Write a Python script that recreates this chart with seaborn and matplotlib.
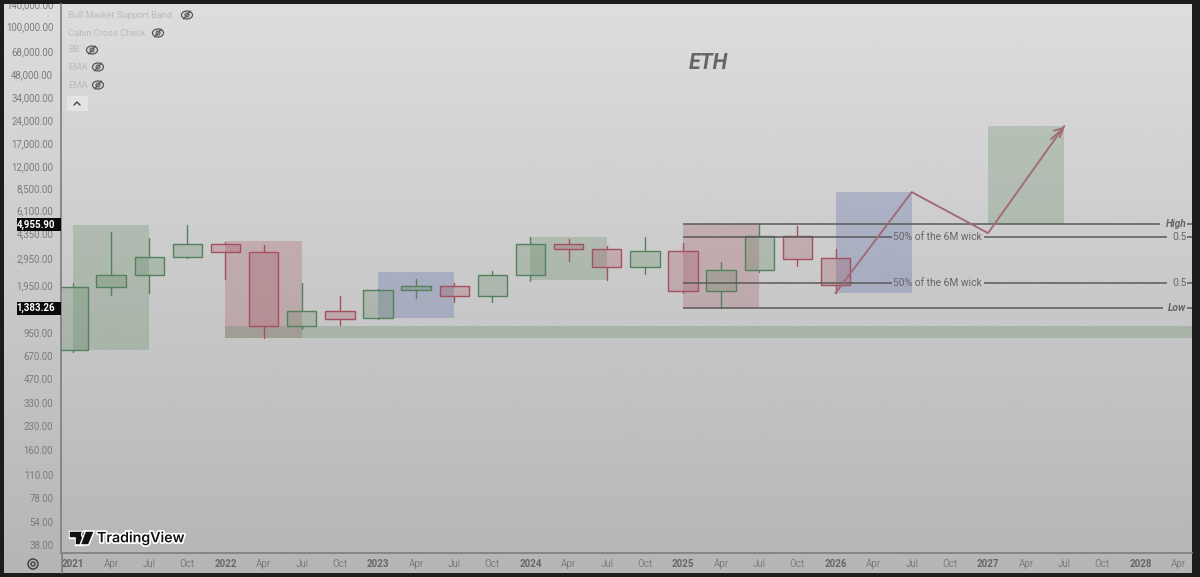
import numpy as np
import pandas as pd
import matplotlib.pyplot as plt
import matplotlib.patheffects as pe
from matplotlib.patches import Rectangle, Polygon, Circle, Ellipse
from matplotlib.ticker import NullLocator
import seaborn as sns

# quarterly ETH candles
opens = [737, 1908, 2290, 3008, 3664, 3250, 1056, 1326, 1190, 1824, 1938, 1665,
         2280, 3640, 3396, 2583, 3296, 1805, 2470, 4120, 2963]
highs = [2040, 4395, 4013, 4868, 3800, 3606, 2028, 1665, 1857, 2155, 2028, 2430,
         4074, 3950, 3540, 4074, 3717, 2800, 4955.9, 4800, 3396]
lows = [715, 1690, 1742, 2950, 2155, 881, 1009, 1072, 1180, 1615, 1520, 1520,
        2090, 2830, 2122, 2323, 1750, 1383.26, 2396, 2636, 1742]
closes = [1908, 2290, 3008, 3664, 3243, 1056, 1326, 1180, 1824, 1938, 1665, 2290,
          3640, 3396, 2583, 3296, 1805, 2470, 4120, 2931, 1967]

# shaded zones: start quarter, end quarter, low, high, colour
zone_starts = [0, 4, 8, 12, 16, 20, 24]
zone_ends = [2, 6, 10, 14, 18, 22, 26]
zone_lows = [734, 881, 1192, 2122, 1387, 1742, 4955.9]
zone_highs = [4880, 3835, 2396, 4074, 4955.9, 8060, 21950]
zone_colors = ['green', 'red', 'blue', 'green', 'red', 'blue', 'green']

band_low, band_high = 881, 1056

path_x = [20, 22, 24, 26]
path_y = [1742, 8060, 4327, 21950]

fib_prices = [4955.9, 4074, 2028, 1383.26]
fib_names = ['High', '0.5', '0.5', 'Low']
fib_ends = [28.5, 28.7, 28.7, 28.6]

y_ticks = [140000, 100000, 68000, 48000, 34000, 24000, 17000, 12000, 8500, 6100, 4350,
           2950, 1950, 950, 670, 470, 330, 230, 160, 110, 78, 54, 38]
x_labels = ['2021', 'Apr', 'Jul', 'Oct', '2022', 'Apr', 'Jul', 'Oct', '2023', 'Apr', 'Jul', 'Oct',
            '2024', 'Apr', 'Jul', 'Oct', '2025', 'Apr', 'Jul', 'Oct', '2026', 'Apr', 'Jul', 'Oct',
            '2027', 'Apr', 'Jul', 'Oct', '2028', 'Apr']
legend_names = ['Bull Market Support Band', 'Cabin Cross Check', 'BB', 'EMA', 'EMA']

GREEN = '#55805e'
RED = '#a5505f'
FILLS = {'green': (0.33, 0.50, 0.33, 0.24), 'red': (0.62, 0.27, 0.32, 0.24), 'blue': (0.27, 0.35, 0.66, 0.25)}

sns.set_theme(style='white')
plt.rcParams['font.family'] = ['Roboto', 'DejaVu Sans']

W, H = 1200, 577
fig = plt.figure(figsize=(12, 5.77), dpi=100, facecolor='#1c1c1c')


def px_axes(x0, y0, x1, y1, **kw):
    return fig.add_axes([x0 / W, 1 - y1 / H, (x1 - x0) / W, (y1 - y0) / H], **kw)


# grey gradient behind everything
bg = px_axes(4, 4, 1192, 573, zorder=0)
grad = np.linspace(221, 181, 256).reshape(-1, 1)
bg.imshow(grad, cmap='gray', vmin=0, vmax=255, aspect='auto')
bg.axis('off')

ax = px_axes(61.5, 4, 1192, 553, zorder=1)
ax.patch.set_alpha(0)
ax.set_yscale('log')
ax.set_ylim(33.7, 139700)
ax.set_xlim(-0.30, 29.35)

# zones
for s, e, lo, hi, c in zip(zone_starts, zone_ends, zone_lows, zone_highs, zone_colors):
    ax.bar(s, hi - lo, bottom=lo, width=e - s, align='edge', color=FILLS[c], linewidth=0, zorder=1)
ax.bar(4, band_high - band_low, bottom=band_low, width=26, align='edge',
       color=(0.33, 0.50, 0.33, 0.25), linewidth=0, zorder=1)

# candles
candles = pd.DataFrame({'open': opens, 'high': highs, 'low': lows, 'close': closes})
candles['q'] = candles.index
candles['top'] = candles[['open', 'close']].max(axis=1)
candles['bottom'] = candles[['open', 'close']].min(axis=1)
candles['dir'] = np.where(candles['close'] >= candles['open'], 'up', 'down')

upper = candles.melt(id_vars=['q', 'dir'], value_vars=['high', 'top'], value_name='price').assign(part='u')
lower = candles.melt(id_vars=['q', 'dir'], value_vars=['bottom', 'low'], value_name='price').assign(part='l')
wicks = pd.concat([upper, lower], ignore_index=True)
wicks['seg'] = wicks['part'] + wicks['q'].astype(str)
sns.lineplot(data=wicks, x='q', y='price', hue='dir', units='seg', estimator=None, sort=False,
             palette={'up': GREEN, 'down': RED}, linewidth=1.0, legend=False, ax=ax, zorder=3)

for _, c in candles.iterrows():
    up = c['dir'] == 'up'
    ax.bar(c['q'], c['top'] - c['bottom'], bottom=c['bottom'], width=0.77,
           color=FILLS['green'] if up else FILLS['red'],
           edgecolor=GREEN if up else RED, linewidth=1.0, zorder=3)

# fib lines, with gaps left for the labels
for price, end, name in zip(fib_prices, fib_ends, fib_names):
    if name == '0.5':
        ax.hlines(price, 16, 21.47, color='#5a5a5a', lw=1.1, zorder=4)
        ax.hlines(price, 23.9, end, color='#5a5a5a', lw=1.1, zorder=4)
        ax.text(22.68, price, '50% of the 6M wick', ha='center', va='center', fontsize=7.4,
                color='#666666', zorder=5)
    else:
        ax.hlines(price, 16, end, color='#5a5a5a', lw=1.1, zorder=4)
    ax.hlines(price, 29.22, 29.35, color='#5a5a5a', lw=1.1, zorder=4)
    ax.text(29.2, price, name, ha='right', va='center', fontsize=7.4, color='#666666',
            fontweight='bold' if name != '0.5' else 'normal',
            style='italic' if name != '0.5' else 'normal', zorder=5)

# projected path
sns.lineplot(x=path_x, y=path_y, sort=False, estimator=None, color='#a06c75', linewidth=1.4, ax=ax, zorder=6)
ax.annotate('', xy=(26.07, 22400), xytext=(25.6, 17500),
            arrowprops=dict(arrowstyle='->', color='#a06c75', lw=1.3, mutation_scale=16), zorder=6)

ax.text(16.66, 57500, 'ETH', ha='center', va='center', fontsize=15.5, fontweight='bold', style='italic',
        color='#666666', zorder=5)

# axes furniture
ax.set_xlabel('')
ax.set_ylabel('')
ax.grid(False)
for name, sp in ax.spines.items():
    sp.set_visible(name in ('left', 'bottom'))
    sp.set_color('#7d7d7d')
    sp.set_linewidth(1.2)
ax.yaxis.set_minor_locator(NullLocator())
ax.set_yticks(y_ticks)
ax.set_yticklabels([f'{v:,.2f}' for v in y_ticks], fontsize=6.9, color='#7b7b7b')
ax.set_xticks(range(len(x_labels)))
ax.set_xticklabels(x_labels, fontsize=7.0, color='#7b7b7b')
ax.tick_params(axis='both', length=0, which='both')
ax.tick_params(axis='y', pad=6)
ax.tick_params(axis='x', pad=4.5)
for lab in ax.get_xticklabels():
    if lab.get_text().isdigit():
        lab.set_fontweight('bold')
        lab.set_color('#666666')
for lab in ax.get_yticklabels():
    lab.set_clip_box(bg.bbox)
    lab.set_clip_on(True)

# overlay in pixel coordinates: legend, price tags, logo, icons
ov = px_axes(0, 0, W, H, zorder=5)
ov.set_xlim(0, W)
ov.set_ylim(H, 0)
ov.axis('off')
ov.patch.set_alpha(0)

ov.plot([61.5, 61.5], [553, 573], color='#7d7d7d', lw=1.2)


def eye(x, y):
    ov.add_patch(Ellipse((x, y), 11, 8, fill=False, ec='#555555', lw=0.9))
    ov.add_patch(Circle((x, y), 2, fill=False, ec='#555555', lw=0.8))
    ov.plot([x - 3.5, x + 3.5], [y + 4, y - 4], color='#555555', lw=0.9)


leg_y = [15, 33, 50, 67, 85]
eye_x = [187, 158, 92, 98, 98]
for name, y, ex in zip(legend_names, leg_y, eye_x):
    ov.text(68, y, name, ha='left', va='center', fontsize=6.7, color='#bcbcbc')
    eye(ex, y)
ov.add_patch(Rectangle((67, 96), 21, 15, fc='#e3e3e3', ec='none'))
ov.plot([74, 77, 80], [105, 102, 105], color='#444444', lw=1)

for y, txt in zip([224.5, 308], ['4,955.90', '1,383.26']):
    ov.add_patch(Rectangle((17, y - 6.5), 44, 13, fc='#0a0a0a', ec='none', zorder=3))
    ov.text(55, y, txt, ha='right', va='center', fontsize=7.0, color='white', fontweight='bold', zorder=4)

ov.add_patch(Circle((33, 564), 5, fill=False, ec='#444444', lw=1.1))
ov.add_patch(Circle((33, 564), 2, fill=False, ec='#444444', lw=1))

halo = [pe.withStroke(linewidth=2.5, foreground='white')]
logo = [
    Polygon([(70, 532), (82, 532), (82, 544), (76, 544), (76, 537), (70, 537)], closed=True),
    Circle((85.3, 534.6), 2.6),
    Polygon([(86, 532), (93, 532), (88, 544), (81.5, 544)], closed=True),
]
for p in logo:
    p.set(fc='#111111', ec='#111111', lw=0.3, path_effects=[pe.withStroke(linewidth=2.5, foreground='white')])
    ov.add_patch(p)
ov.text(97, 538, 'TradingView', ha='left', va='center', fontsize=10.2, color='#111111', fontweight='semibold',
        family='Inter', path_effects=halo)

fig.savefig('out.png', dpi=100, facecolor=fig.get_facecolor())
